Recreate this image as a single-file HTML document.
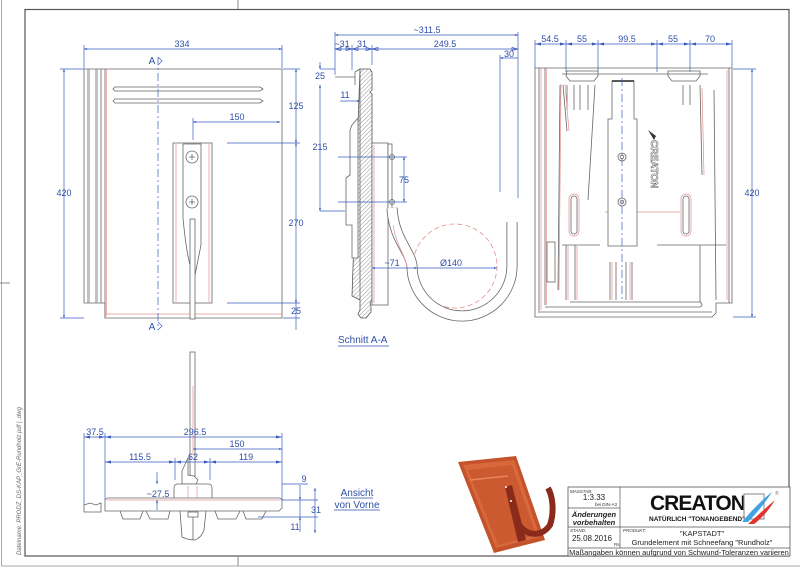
<!DOCTYPE html>
<html><head><meta charset="utf-8"><style>
html,body{margin:0;padding:0;background:#fff;}
svg{display:block;}
text{font-family:"Liberation Sans",sans-serif;}
.d{fill:#2f4fa8;font-size:9px;text-anchor:middle;}
.dl{stroke:#3a5cc0;stroke-width:0.7;fill:none;}
.g{stroke:#666;stroke-width:0.8;fill:none;}
.gf{stroke:#666;stroke-width:0.8;fill:#fff;}
.r{stroke:#e59090;stroke-width:0.7;fill:none;}
.cl{stroke:#3a5cc0;stroke-width:0.7;stroke-dasharray:8,3,2,3;fill:none;}
</style></head><body>
<svg width="800" height="575" viewBox="0 0 800 575" xmlns="http://www.w3.org/2000/svg">
<defs>
<marker id="a" viewBox="0 0 10 10" refX="10" refY="5" markerWidth="6" markerHeight="4" orient="auto-start-reverse"><path d="M0,1 L10,5 L0,9z" fill="#3a5cc0"/></marker>
<pattern id="h" width="3" height="3" patternUnits="userSpaceOnUse" patternTransform="rotate(45)"><line x1="0" y1="0" x2="0" y2="3" stroke="#777" stroke-width="0.8"/></pattern>
</defs>
<!-- frames -->
<rect x="1.5" y="-2" width="830" height="568" fill="none" stroke="#aaa" stroke-width="1"/>
<rect x="25" y="9.5" width="764" height="546.5" fill="none" stroke="#555" stroke-width="1.2"/>
<line x1="238" y1="0" x2="238" y2="9" stroke="#888"/>
<line x1="238" y1="556" x2="238" y2="566" stroke="#888"/>
<line x1="0" y1="283" x2="10" y2="283" stroke="#888"/>
<text x="21" y="555" transform="rotate(-90 21 555)" style="font-size:6px;fill:#666;font-style:italic">Dateiname: PRODZ_DS-KAP_GrE-Rundholz.pdf | .dwg</text>

<!-- LEFT VIEW -->
<path class="g" d="M84,69 H282 V318 H105 V303 H101 V303 H84 Z"/>
<line class="g" x1="88" y1="69" x2="88" y2="303"/><line class="r" x1="89.5" y1="69" x2="89.5" y2="303"/>
<line class="g" x1="96" y1="69" x2="96" y2="303"/><line class="r" x1="97.5" y1="69" x2="97.5" y2="303"/>
<line class="g" x1="101" y1="69" x2="101" y2="303"/>
<line class="g" x1="105" y1="69" x2="105" y2="318"/><line class="r" x1="106.5" y1="69" x2="106.5" y2="316"/>
<line class="r" x1="106" y1="314" x2="282" y2="314"/>
<path class="g" d="M115,87 H260 L263,89 L260,91 H115 L113,89 Z" fill="#e8e8e8"/>
<path class="g" d="M115,99 H260 L263,101 L260,103 H115 L113,101 Z" fill="#e8e8e8"/>
<rect class="g" x="173" y="143" width="39" height="160"/>
<line class="r" x1="176" y1="144" x2="176" y2="302"/><line class="r" x1="209" y1="144" x2="209" y2="302"/>
<path class="g" d="M183,144 H201 V245 Q198,260 195,275 M183,144 V218 Q186,250 190,265"/>
<circle class="g" cx="192" cy="157" r="6"/><circle class="g" cx="192" cy="202" r="6"/>
<path class="g" d="M189,157 h6 M192,154 v6 M189,202 h6 M192,199 v6" stroke-width="0.4"/>
<rect class="gf" x="190" y="219" width="5" height="100" stroke="#444"/>
<line class="cl" x1="158" y1="57" x2="158" y2="330"/>
<text class="d" x="152" y="64" style="font-size:10px">A</text><path d="M158,57 l4,4 l-4,4" class="dl"/>
<text class="d" x="152" y="330" style="font-size:10px">A</text><path d="M158,322 l4,4 l-4,4" class="dl"/>
<line class="dl" x1="84" y1="49" x2="282" y2="49" marker-start="url(#a)" marker-end="url(#a)"/>
<line class="dl" x1="84" y1="45" x2="84" y2="68"/><line class="dl" x1="282" y1="45" x2="282" y2="68"/>
<text class="d" x="182" y="47">334</text>
<line class="dl" x1="64" y1="69" x2="64" y2="318" marker-start="url(#a)" marker-end="url(#a)"/>
<line class="dl" x1="60" y1="69" x2="84" y2="69"/><line class="dl" x1="60" y1="318" x2="84" y2="318"/>
<text class="d" x="64" y="196">420</text>
<line class="dl" x1="296" y1="69" x2="296" y2="143" marker-start="url(#a)" marker-end="url(#a)"/>
<line class="dl" x1="296" y1="143" x2="296" y2="303" marker-start="url(#a)" marker-end="url(#a)"/>
<line class="dl" x1="296" y1="303" x2="296" y2="330"/>
<line class="dl" x1="283" y1="69" x2="300" y2="69"/><line class="dl" x1="227" y1="143" x2="300" y2="143"/><line class="dl" x1="227" y1="303" x2="300" y2="303"/><line class="dl" x1="283" y1="318" x2="300" y2="318"/>
<text class="d" x="296" y="109">125</text><text class="d" x="296" y="226">270</text><text class="d" x="296" y="314">25</text>
<line class="dl" x1="193" y1="122" x2="280" y2="122" marker-start="url(#a)" marker-end="url(#a)"/>
<line class="dl" x1="193" y1="118" x2="193" y2="140"/>
<text class="d" x="237" y="120">150</text>

<!-- SECTION A-A -->
<line class="dl" x1="335" y1="35" x2="518" y2="35" marker-start="url(#a)" marker-end="url(#a)"/>
<text class="d" x="427" y="33">~311.5</text>
<line class="dl" x1="335" y1="49" x2="518" y2="49"/>
<path class="dl" d="M335,49 l6,-1.5 v3z M352,49 l-6,-1.5 v3z M352,49 l6,-1.5 v3z M372,49 l-6,-1.5 v3z M372,49 l6,-1.5 v3z M518,49 l-6,-1.5 v3z" fill="#3a5cc0"/>
<text class="d" x="342" y="47">~31</text><text class="d" x="362" y="47">31</text><text class="d" x="445" y="47">249.5</text>
<line class="dl" x1="335" y1="32" x2="335" y2="75"/><line class="dl" x1="352" y1="45" x2="352" y2="70"/><line class="dl" x1="372" y1="45" x2="372" y2="65"/>
<line class="dl" x1="500" y1="58" x2="518" y2="58" marker-start="url(#a)"/><text class="d" x="509" y="57">30</text>
<line class="dl" x1="500" y1="55" x2="500" y2="192"/><line class="dl" x1="518" y1="32" x2="518" y2="198"/>
<line class="dl" x1="320" y1="62" x2="320" y2="69" marker-end="url(#a)"/><line class="dl" x1="320" y1="69" x2="335" y2="69"/>
<text class="d" x="320" y="79">25</text>
<line class="dl" x1="320" y1="85" x2="320" y2="211" marker-start="url(#a)" marker-end="url(#a)"/>
<text class="d" x="320" y="150">215</text>
<line class="dl" x1="320" y1="211" x2="345" y2="211"/>
<line class="dl" x1="340" y1="101" x2="360" y2="101" marker-end="url(#a)"/><text class="d" x="345" y="98">11</text>
<line class="g" x1="335" y1="77" x2="355" y2="77" stroke="#999"/>
<path d="M360,69 H370 L372,72 V90 L370,92 L372,94 V300 L370,303 L371,306 L371,312 L366,318 H361 L358,314 L360,310 V300 L352,296 Z" fill="url(#h)" stroke="#555" stroke-width="0.8"/>
<path class="g" d="M355,72 L360,69 V300 M355,72 V85"/>
<path class="gf" d="M352,125 L358,118 V258 H352 V225 H346 V178 L350,175 V130 Z"/>
<rect class="gf" x="372" y="143" width="16" height="162"/>
<line class="r" x1="374" y1="145" x2="374" y2="303"/>
<rect class="gf" x="388" y="144" width="4" height="66"/>
<circle class="g" cx="392" cy="157" r="2.5"/><circle class="g" cx="392" cy="202" r="2.5"/>
<line class="dl" x1="338" y1="157" x2="407" y2="157" stroke="#888"/><line class="dl" x1="338" y1="202" x2="407" y2="202" stroke="#888"/>
<line class="dl" x1="404" y1="157" x2="404" y2="202" marker-start="url(#a)" marker-end="url(#a)"/><text class="d" x="404" y="183">75</text>
<circle cx="455" cy="266" r="42" fill="none" stroke="#e59090" stroke-width="0.8" stroke-dasharray="5,3"/>
<path d="M392,208 C394,240 410,250 412,266 A50,50 0 0 0 512,266 L512,222" fill="none" stroke="#666" stroke-width="11"/>
<path d="M392,208 C394,240 410,250 412,266 A50,50 0 0 0 512,266 L512,222" fill="none" stroke="#fff" stroke-width="9.4"/>
<path class="r" d="M393,225 C396,245 405,255 407,266"/>
<line class="dl" x1="372" y1="268" x2="413" y2="268" marker-start="url(#a)"/><text class="d" x="392" y="266">~71</text>
<line class="dl" x1="413" y1="268" x2="497" y2="268" marker-start="url(#a)" marker-end="url(#a)"/><text class="d" x="451" y="266">Ø140</text>
<text x="338" y="343" style="font-size:10px;fill:#2f4fa8">Schnitt A-A</text>
<line x1="338" y1="346" x2="389" y2="346" stroke="#2f4fa8" stroke-width="0.7"/>

<!-- RIGHT VIEW -->
<line class="dl" x1="535" y1="44" x2="732" y2="44"/>
<path d="M535,44 l6,-1.5 v3z M566,44 l-6,-1.5 v3z M566,44 l6,-1.5 v3z M598,44 l-6,-1.5 v3z M598,44 l6,-1.5 v3z M657,44 l-6,-1.5 v3z M657,44 l6,-1.5 v3z M690,44 l-6,-1.5 v3z M690,44 l6,-1.5 v3z M732,44 l-6,-1.5 v3z" fill="#3a5cc0"/>
<line class="dl" x1="535" y1="40" x2="535" y2="68"/><line class="dl" x1="566" y1="40" x2="566" y2="72"/><line class="dl" x1="598" y1="40" x2="598" y2="72"/><line class="dl" x1="657" y1="40" x2="657" y2="72"/><line class="dl" x1="690" y1="40" x2="690" y2="72"/><line class="dl" x1="732" y1="40" x2="732" y2="68"/>
<text class="d" x="550" y="42">54.5</text><text class="d" x="582" y="42">55</text><text class="d" x="627" y="42">99.5</text><text class="d" x="673" y="42">55</text><text class="d" x="710" y="42">70</text>
<line class="dl" x1="752" y1="69" x2="752" y2="317" marker-start="url(#a)" marker-end="url(#a)"/>
<line class="dl" x1="733" y1="69" x2="756" y2="69"/><line class="dl" x1="733" y1="317" x2="756" y2="317"/>
<text class="d" x="752" y="196">420</text>
<path class="g" d="M535,68 H732 V303 H716 V313 L712,317 H535 Z"/>
<line class="g" x1="539" y1="68" x2="539" y2="313"/><line class="r" x1="541" y1="68" x2="541" y2="310"/>
<line class="g" x1="545" y1="68" x2="545" y2="305"/><line class="r" x1="546.5" y1="68" x2="546.5" y2="305"/>
<path class="g" d="M540,312 H712 M545,307 H700 Q704,305 700,302 H570"/>
<line class="r" x1="727" y1="70" x2="727" y2="300"/><line class="g" x1="729" y1="68" x2="729" y2="303"/>
<rect class="g" x="547" y="242" width="8" height="40"/>
<path class="g" d="M562,74 H708 M567,71 H598 V76 L594,81 H570 L566,76 Z M668,71 H700 V76 L696,81 H672 L668,76 Z"/>
<path class="g" d="M563,85 L567,131 M567,85 V110 M574,85 V110 M580,85 V110 M588,85 V110 M595,85 L588,200 M683,85 V105 M690,85 V105 M700,85 L702,175 M560,85 L558,290 M714,90 L716,300"/>
<path class="r" d="M565,84 L569,131 M702,88 L704,175 M561,84 L559,290"/>
<rect class="g" x="571" y="196" width="6" height="38" rx="3"/><rect class="r" x="569" y="194" width="10" height="42" rx="5"/>
<rect class="g" x="683" y="196" width="6" height="38" rx="3"/><rect class="r" x="681" y="194" width="10" height="42" rx="5"/>
<path class="g" d="M562,245 H600 M657,245 H726 M566,245 V300 M575,245 V300 M610,262 V300 M616,262 V300 M626,262 V300 M632,262 V300 M700,245 V302"/>
<path class="r" d="M568,246 V300 M577,246 V300 M612,262 V300 M630,262 V300 M605,212 H680"/>
<path class="gf" d="M612,81 H634 V119 H637 V246 H608 V119 H612 Z" stroke="#333"/>
<line x1="612" y1="81" x2="634" y2="81" stroke="#222" stroke-width="1.5"/>
<line class="cl" x1="622" y1="78" x2="622" y2="300" stroke="#888"/>
<circle class="g" cx="622" cy="157" r="4"/><circle class="g" cx="622" cy="157" r="1.8"/>
<circle class="g" cx="622" cy="202" r="4"/><circle class="g" cx="622" cy="202" r="1.8"/>
<text x="651" y="140" transform="rotate(90 651 140)" style="font-size:10px;font-weight:bold;fill:#fff;stroke:#555;stroke-width:0.5">CREATON</text>
<path d="M648,130 L656,136 L654,140 Z" fill="#333"/>

<!-- FRONT VIEW -->
<rect class="gf" x="190" y="352" width="5" height="150" stroke="#444"/>
<line class="r" x1="193" y1="386" x2="193" y2="455"/>
<path class="gf" d="M182,471 L188,458 V475 L194,476 L198,480 L196,484 H182 Z"/>
<path class="gf" d="M174,500 V488 Q174,484 178,484 H208 Q212,484 212,488 V500" stroke-width="1.4" stroke="#555"/>
<line class="r" x1="188" y1="486" x2="188" y2="500"/><line class="r" x1="197" y1="486" x2="197" y2="500"/>
<path class="gf" d="M84,512 V505 L90,503 L96,505 L101,503 V512 Z"/>
<path class="gf" d="M105,500 L107,498 H280 L282,500 V508 L279,511 H108 L105,511 Z"/>
<line class="r" x1="107" y1="500" x2="280" y2="500"/>
<path class="g" d="M120,511 L123,519 H140 L143,511 M146,511 L150,519 H168 L170,511 M215,511 L218,519 H236 L240,511 M243,511 L246,519 H262 L266,511 M180,511 L182,537 Q188,540 195,540 Q201,538 204,530 L206,511"/>
<rect class="g" x="188" y="512" width="10" height="5" fill="#555"/>
<line class="g" x1="193" y1="517" x2="193" y2="540"/>
<line class="dl" x1="84" y1="437" x2="282" y2="437"/>
<path d="M84,437 l6,-1.5 v3z M105,437 l-6,-1.5 v3z M105,437 l6,-1.5 v3z M282,437 l-6,-1.5 v3z" fill="#3a5cc0"/>
<line class="dl" x1="84" y1="433" x2="84" y2="505"/><line class="dl" x1="105" y1="433" x2="105" y2="500"/><line class="dl" x1="282" y1="433" x2="282" y2="500"/>
<text class="d" x="95" y="435">37.5</text><text class="d" x="195" y="435">296.5</text>
<line class="dl" x1="193" y1="449" x2="282" y2="449" marker-start="url(#a)" marker-end="url(#a)"/><text class="d" x="237" y="447">150</text>
<line class="dl" x1="105" y1="462" x2="282" y2="462"/>
<path d="M105,462 l6,-1.5 v3z M175,462 l-6,-1.5 v3z M175,462 l6,-1.5 v3z M210,462 l-6,-1.5 v3z M210,462 l6,-1.5 v3z M282,462 l-6,-1.5 v3z" fill="#3a5cc0"/>
<line class="dl" x1="175" y1="458" x2="175" y2="480"/><line class="dl" x1="210" y1="458" x2="210" y2="480"/>
<text class="d" x="140" y="460">115.5</text><text class="d" x="193" y="460">62</text><text class="d" x="246" y="460">119</text>
<line class="dl" x1="157" y1="472" x2="157" y2="484" marker-end="url(#a)"/><line class="dl" x1="157" y1="500" x2="157" y2="510" marker-start="url(#a)"/>
<text class="d" x="158" y="497">~27.5</text>
<line class="dl" x1="282" y1="484" x2="308" y2="484"/><line class="dl" x1="282" y1="500" x2="318" y2="500"/><line class="dl" x1="258" y1="517" x2="318" y2="517"/>
<line class="dl" x1="300" y1="485" x2="300" y2="500" marker-end="url(#a)"/><line class="dl" x1="300" y1="500" x2="300" y2="517"/><line class="dl" x1="300" y1="517" x2="300" y2="532" marker-start="url(#a)"/>
<line class="dl" x1="315" y1="488" x2="315" y2="533" marker-start="url(#a)" marker-end="url(#a)"/>
<text class="d" x="304" y="482">9</text><text class="d" x="316" y="513">31</text><text class="d" x="295" y="530">11</text>
<text class="d" x="357" y="496" style="font-size:10px">Ansicht</text>
<text class="d" x="357" y="508" style="font-size:10px">von Vorne</text>
<line x1="341" y1="498" x2="373" y2="498" stroke="#2f4fa8" stroke-width="0.7"/>
<line x1="334" y1="510" x2="380" y2="510" stroke="#2f4fa8" stroke-width="0.7"/>

<!-- PRODUCT IMAGE -->
<path d="M458,462 L516,456 L545,540 L494,553 Z" fill="#c4522b"/>
<path d="M463,465 L514,460 L540,537 L496,548 Z" fill="#d8693d"/>
<path d="M468,470 L512,465 L536,535 L498,545 Z" fill="#cc5a30"/>
<path d="M470,480 L508,476" stroke="#e8845a" stroke-width="1.5"/>
<path d="M505,487 L512,485 L526,540 L518,542 Z" fill="#8a2a1a"/>
<path d="M516,517 C520,535 540,540 550,525 C555,510 552,495 548,488" fill="none" stroke="#8a2a1a" stroke-width="6"/>
<circle cx="506" cy="487" r="1" fill="#fff"/><circle cx="511" cy="501" r="1" fill="#fff"/>

<!-- TITLE BLOCK -->
<rect x="568" y="487" width="222" height="69" fill="#fff" stroke="#555" stroke-width="0.8"/>
<line x1="620" y1="487" x2="620" y2="548" stroke="#555" stroke-width="0.7"/>
<line x1="568" y1="508" x2="620" y2="508" stroke="#555" stroke-width="0.7"/>
<line x1="568" y1="527" x2="790" y2="527" stroke="#555" stroke-width="0.7"/>
<line x1="568" y1="548" x2="790" y2="548" stroke="#555" stroke-width="0.7"/>
<text x="570" y="493" style="font-size:4.5px;font-style:italic;fill:#333">MASSTAB:</text>
<text x="594" y="500" style="font-size:8px;text-anchor:middle;fill:#222">1:3.33</text>
<text x="617" y="506" style="font-size:4.5px;text-anchor:end;fill:#333">bei DIN-A3</text>
<text x="594" y="517" style="font-size:7.5px;font-weight:bold;font-style:italic;text-anchor:middle;fill:#222">Änderungen</text>
<text x="594" y="525" style="font-size:7.5px;font-weight:bold;font-style:italic;text-anchor:middle;fill:#222">vorbehalten</text>
<text x="570" y="532" style="font-size:4.5px;font-style:italic;fill:#333">STAND:</text>
<text x="592" y="541" style="font-size:8px;text-anchor:middle;fill:#222">25.08.2016</text>
<text x="614" y="546" style="font-size:4.5px;fill:#333">Rs</text>
<text x="623" y="532" style="font-size:4.5px;font-style:italic;fill:#333">PRODUKT:</text>
<text x="702" y="536" style="font-size:7.5px;text-anchor:middle;fill:#222">"KAPSTADT"</text>
<text x="702" y="545" style="font-size:7.5px;text-anchor:middle;fill:#222">Grundelement mit Schneefang "Rundholz"</text>
<text x="679" y="555" style="font-size:7.5px;text-anchor:middle;fill:#222">Maßangaben können aufgrund von Schwund-Toleranzen variieren</text>
<text x="650" y="510" style="font-size:21px;font-weight:bold;fill:#111;letter-spacing:-1px">CREATON</text>
<text x="649" y="521" style="font-size:6.5px;font-weight:bold;fill:#111">NATÜRLICH "TONANGEBEND"</text>
<rect x="744" y="494" width="20" height="25" fill="none" stroke="#999" stroke-width="1.2"/>
<path d="M742,522 C752,510 762,500 772,492 C765,503 756,514 748,522 Z" fill="#3fa4e0"/>
<path d="M748,524 C758,515 768,506 775,500 C769,510 762,518 754,524 Z" fill="#e0342c"/>
<text x="775" y="495" style="font-size:5px;fill:#777">®</text>
</svg>
</body></html>
